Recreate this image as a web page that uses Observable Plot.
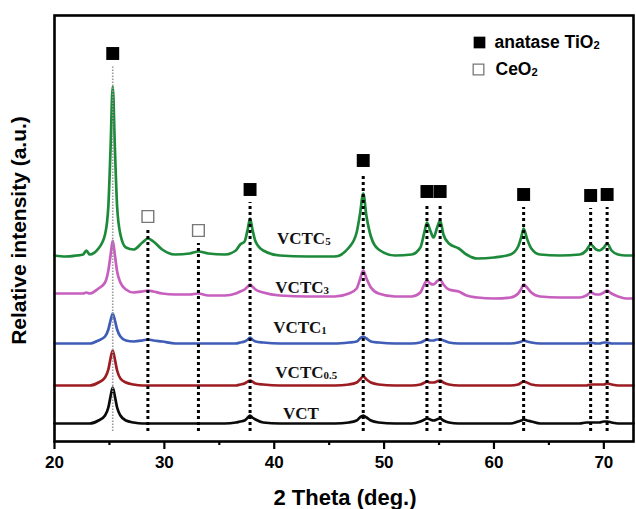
<!DOCTYPE html>
<html><head><meta charset="utf-8">
<script src="https://cdn.jsdelivr.net/npm/d3@7"></script>
<script src="https://cdn.jsdelivr.net/npm/@observablehq/plot@0.6"></script>
<style>
body{margin:0;background:#fff}
#chart{position:relative;width:636px;height:509px}
#chart svg{font-family:Arial,"Liberation Sans",sans-serif}
#chart g[aria-label="x-axis tick label"] text{font-weight:bold;font-size:17px}
</style>
</head><body><div id="chart"></div>
<script>
// 2θ sampling positions (deg.)
const twoTheta = [20,21,22,22.6,22.9,23.2,24,24.6,24.9,25.1,
  25.3,25.5,25.7,26,26.5,27.2,28,28.5,29,29.8,
  31,32.3,33.1,34,35.5,36.5,36.9,37.3,37.6,37.8,
  38.0,38.3,39,40.5,43,45.5,46.8,47.5,47.8,48.1,
  48.4,48.8,49.5,51,52.5,53.3,53.7,53.9,54.2,54.5,
  54.8,55.1,55.4,55.9,56.8,57.5,58.5,60,61.5,62.2,
  62.5,62.7,63.0,63.4,64.2,66,67.8,68.4,68.8,69.3,
  69.6,70.0,70.3,70.7,71.3,72,72.7];

// intensities relative to each pattern's baseline (a.u.)
const vct = [0,0,0,0,0,0,3,8,16,27,
  36,27,16,8,3,1,0,0,0,0,
  0,0,0,0,0,1,2,3,6,8,
  6,4,1,0,0,0,1,3,6,8,
  6,3,1,0,0,2,4,5,4,3,
  4,5,3,1,0,0,0,0,0,2,
  3,4,3,2,0,0,0,1,1,1,
  1,2,2,1,0,0,0];
const vctc05 = [0,0,0,0,0,0,3,8,16,27,
  35,26,15,7,3,1,0,0,0,0,
  0,0,0,0,0,0,1,2,4,5,
  4,2,1,0,0,0,1,3,6,9,
  6,3,1,0,0,1,3,4,3,3,
  4,5,3,1,0,0,0,0,0,1,
  3,4,3,1,0,0,0,0,1,1,
  1,1,2,1,0,0,0];
const vctc1 = [0,0,0,0,0,0,3,7,14,23,
  30,23,14,7,3,2,3,4,3,2,
  0,0,0,0,0,0,1,2,4,6,
  4,2,1,0,0,0,1,2,5,7,
  5,2,1,0,0,1,3,4,3,3,
  4,4,3,1,0,0,0,0,0,1,
  2,3,2,1,0,0,0,0,1,0,
  0,1,1,0,0,0,0];
const vctc3 = [0,0,0,0,1,0,5,11,23,38,
  53,38,22,11,4,1,2,3,2,0,
  -1,-1,0,-2,-2,0,2,4,7,9,
  7,4,1,-2,-3,-3,0,5,14,23,
  15,6,0,-3,-3,1,10,13,10,9,
  12,14,9,4,2,-2,-4,-5,-4,0,
  5,9,6,1,-3,-4,-4,-2,1,-1,
  -1,1,3,0,-3,-5,-5];
const vctc5 = [1,0,1,2,6,2,8,22,50,107,
  170,107,50,22,9,7,14,18,15,7,
  2,3,5,3,2,6,12,15,28,38,
  28,15,6,1,0,0,9,24,42,63,
  40,20,7,1,2,9,26,34,26,19,
  28,36,22,13,8,2,-2,-1,2,10,
  20,28,18,8,2,1,2,6,12,7,
  6,9,13,6,2,1,1];

const seriesNames = ["VCT_", "VCTC_0.5", "VCTC_1", "VCTC_3", "VCTC_5"];
const seriesValues = [vct, vctc05, vctc1, vctc3, vctc5];
const seriesOffsets = [18, 56, 98, 148, 185];
const seriesColors = ["#0a0a0a", "#9c1c22", "#3f5cb6", "#c65fbe", "#1d8a3b"];
const labelX = [40.8, 40.1, 39.9, 40.1, 40.25];
const labelY = [28, 69, 114, 154, 203];

// reflection positions (deg.) and marker levels (a.u.)
const anatasePeaks = [25.3, 37.8, 48.1, 53.9, 55.1, 62.7, 68.8, 70.3];
const anataseLevels = [388, 252, 281, 250, 250, 247, 246, 247];
const ceriaPeaks = [28.5, 33.1];
const ceriaLevels = [225, 211];

const xTicks = [20, 30, 40, 50, 60, 70];
const xMinorTicks = [25, 35, 45, 55, 65];

const lineData = [];
seriesValues.forEach((vals, i) => vals.forEach((v, j) =>
  lineData.push({s: seriesNames[i], x: twoTheta[j], y: seriesOffsets[i] + v})));
const labels = seriesNames.map((n, i) => ({text: n, x: labelX[i], y: labelY[i]}));
const anatase = anatasePeaks.map((p, i) => ({x: p, level: anataseLevels[i], main: i === 0}));
const ceria = ceriaPeaks.map((p, i) => ({x: p, level: ceriaLevels[i]}));

const marks = [];
seriesNames.forEach((n, i) => {
  marks.push(Plot.line(lineData.filter(d => d.s === n), {
    x: "x", y: "y", stroke: seriesColors[i], strokeWidth: 2.7, curve: "monotone-x"}));
});
marks.push(
  Plot.ruleX(anatase.filter(d => d.main), {x: "x", y1: 10, y2: d => d.level - 13,
    stroke: "#999", strokeWidth: 1.6, strokeDasharray: "1.5 1.5"}),
  Plot.ruleX(anatase.filter(d => !d.main), {x: "x", y1: 10, y2: d => d.level - 13,
    stroke: "#000", strokeWidth: 3, strokeDasharray: "3 3"}),
  Plot.ruleX(ceria, {x: "x", y1: 10, y2: d => d.level - 13,
    stroke: "#000", strokeWidth: 3, strokeDasharray: "3 3"}),
  Plot.dot(anatase, {x: "x", y: "level", symbol: "square", r: 7.3, fill: "#000", stroke: "none"}),
  Plot.dot(ceria, {x: "x", y: "level", symbol: "square", r: 6.6, fill: "#fff", stroke: "#777", strokeWidth: 1.4}),
  Plot.text(labels, {x: "x", y: "y", text: "text", textAnchor: "start",
    fontFamily: "Liberation Serif", fontWeight: "bold", fontSize: 17, fill: "#111"}),
  // legend
  Plot.dot([0], {frameAnchor: "top-left", dx: 425, dy: 27, symbol: "square", r: 6.6, fill: "#000"}),
  Plot.dot([0], {frameAnchor: "top-left", dx: 424, dy: 54, symbol: "square", r: 6, fill: "#fff", stroke: "#777", strokeWidth: 1.3}),
  Plot.text(["anatase TiO_2"], {frameAnchor: "top-left", dx: 440, dy: 27, textAnchor: "start", lineAnchor: "middle",
    fontWeight: "bold", fontSize: 17.5, fill: "#000"}),
  Plot.text(["CeO_2"], {frameAnchor: "top-left", dx: 441, dy: 54, textAnchor: "start", lineAnchor: "middle",
    fontWeight: "bold", fontSize: 17.5, fill: "#000"}),
  // axes
  Plot.axisX({ticks: xTicks, tickSize: 8, tickPadding: 6, strokeWidth: 2.2, label: null}),
  Plot.axisX({ticks: xMinorTicks, tickSize: 4, strokeWidth: 2.2, tickFormat: () => "", label: null}),
  Plot.frame({stroke: "#000", strokeWidth: 2.6}),
  Plot.text(["Relative intensity (a.u.)"], {frameAnchor: "left", dx: -35, dy: 2, rotate: -90,
    textAnchor: "middle", lineAnchor: "middle", fontWeight: "bold", fontSize: 21, fill: "#000"}),
  Plot.text(["2 Theta (deg.)"], {frameAnchor: "bottom", dy: 56, dx: 1, lineAnchor: "middle",
    fontWeight: "bold", fontSize: 22, fill: "#000"})
);

const chart = Plot.plot({
  width: 636, height: 509,
  marginLeft: 54, marginRight: 3, marginTop: 15, marginBottom: 68,
  x: {domain: [20, 72.7]},
  y: {domain: [0, 426], axis: null},
  marks
});

// subscripts
chart.querySelectorAll("text").forEach(t => {
  const s = t.textContent;
  const k = s.indexOf("_");
  if (k < 0) return;
  const main = s.slice(0, k), sub = s.slice(k + 1);
  const ns = "http://www.w3.org/2000/svg";
  const target = t.querySelector("tspan") || t;
  target.textContent = main;
  if (sub) {
    const ts = document.createElementNS(ns, "tspan");
    ts.setAttribute("font-size", "0.64em");
    ts.setAttribute("dy", "1");
    ts.textContent = sub;
    target.appendChild(ts);
  }
});
document.getElementById("chart").appendChild(chart);
</script>
</body></html>
